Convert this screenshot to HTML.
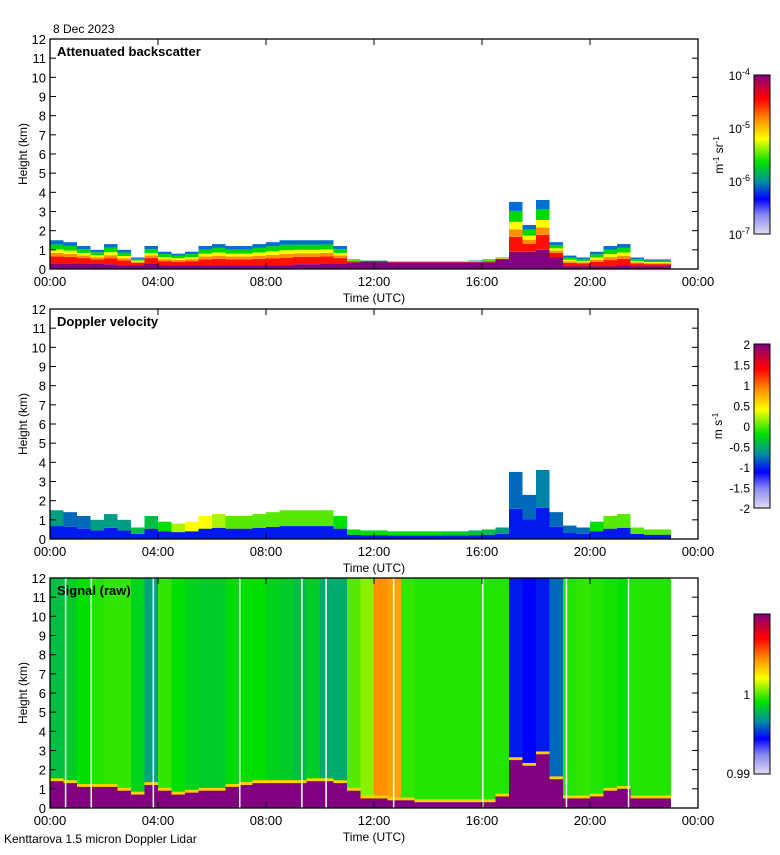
<!DOCTYPE html>
<html><head><meta charset="utf-8"><style>
body{margin:0;background:#fff;}
svg text{font-family:"Liberation Sans",sans-serif;fill:#000;}
</style></head><body>
<svg id="chart" width="780" height="850" xmlns="http://www.w3.org/2000/svg">
<defs>
<linearGradient id="cmap" x1="0" y1="1" x2="0" y2="0">
<stop offset="0" stop-color="#e0dcf0"/><stop offset="0.12" stop-color="#8888f0"/><stop offset="0.22" stop-color="#0000ff"/><stop offset="0.33" stop-color="#0090a0"/><stop offset="0.45" stop-color="#00e000"/><stop offset="0.6" stop-color="#ffff00"/><stop offset="0.72" stop-color="#ff9000"/><stop offset="0.85" stop-color="#ff0000"/><stop offset="0.93" stop-color="#c00040"/><stop offset="1" stop-color="#800080"/>
</linearGradient>
</defs>
<g id="plots"></g>
<g id="axes"></g>
</svg>
<script>
// half-hour bins from 00:00 to 22:30
const hours = [0,0.5,1,1.5,2,2.5,3,3.5,4,4.5,5,5.5,6,6.5,7,7.5,8,8.5,9,9.5,10,10.5,11,11.5,12,12.5,13,13.5,14,14.5,15,15.5,16,16.5,17,17.5,18,18.5,19,19.5,20,20.5,21,21.5,22,22.5];
const cloudTop = [1.5,1.4,1.2,1.0,1.3,1.0,0.6,1.2,0.9,0.8,0.9,1.2,1.3,1.2,1.2,1.3,1.4,1.5,1.5,1.5,1.5,1.2,0.5,0.45,0.45,0.4,0.4,0.4,0.4,0.4,0.4,0.45,0.5,0.6,3.5,2.3,3.6,1.4,0.7,0.6,0.9,1.2,1.3,0.6,0.5,0.5];
const purpleDepth = [0.3,0.3,0.3,0.3,0.25,0.2,0.2,0.3,0.2,0.2,0.2,0.2,0.2,0.2,0.2,0.2,0.2,0.2,0.25,0.25,0.3,0.3,0.35,0.4,0.4,0.35,0.35,0.35,0.35,0.35,0.35,0.35,0.35,0.5,0.9,0.9,1.0,0.6,0.15,0.15,0.15,0.15,0.2,0.15,0.15,0.15];
const velocity = [0.35,0.3,0.3,0.35,0.35,0.35,0.4,0.4,0.45,0.55,0.6,0.6,0.55,0.5,0.5,0.5,0.5,0.5,0.5,0.5,0.5,0.45,0.45,0.45,0.45,0.45,0.45,0.45,0.45,0.42,0.42,0.4,0.4,0.35,0.3,0.3,0.32,0.3,0.3,0.3,0.45,0.5,0.5,0.5,0.5,0.5];
const signalVal = [0.4,0.42,0.45,0.47,0.48,0.48,0.43,0.36,0.48,0.45,0.43,0.42,0.42,0.44,0.45,0.45,0.43,0.42,0.4,0.42,0.37,0.37,0.5,0.53,0.72,0.7,0.48,0.47,0.47,0.47,0.47,0.47,0.47,0.47,0.24,0.22,0.24,0.3,0.47,0.48,0.47,0.46,0.45,0.47,0.47,0.47];
const groundTop = [1.4,1.3,1.1,1.1,1.1,0.9,0.7,1.2,0.9,0.7,0.8,0.9,0.9,1.1,1.2,1.3,1.3,1.3,1.3,1.4,1.4,1.3,0.9,0.5,0.5,0.4,0.4,0.3,0.3,0.3,0.3,0.3,0.3,0.6,2.5,2.2,2.8,1.5,0.5,0.5,0.6,0.9,1.0,0.5,0.5,0.5];
const gapHours = [0.55,1.5,3.8,7.0,9.3,10.2,12.7,16.0,19.1,21.4];
const yTicks = [0,1,2,3,4,5,6,7,8,9,10,11,12];
const xTicks = ["00:00","04:00","08:00","12:00","16:00","20:00","00:00"];

const NS="http://www.w3.org/2000/svg";
const X0=50, W=648, H=230, tops=[39,309,578], BIN=0.5;
const xs=h=>X0+h*W/24;
const ys=(p,km)=>tops[p]+H-km*H/12;
const stops=[[0,[224,220,240]],[0.12,[136,136,240]],[0.22,[0,0,255]],[0.33,[0,144,160]],[0.45,[0,224,0]],[0.6,[255,255,0]],[0.72,[255,144,0]],[0.85,[255,0,0]],[0.93,[192,0,64]],[1,[128,0,128]]];
function cmap(v){v=Math.max(0,Math.min(1,v));for(let i=1;i<stops.length;i++){if(v<=stops[i][0]){const a=stops[i-1],b=stops[i],t=(v-a[0])/(b[0]-a[0]);return 'rgb('+a[1].map((c,k)=>Math.round(c+(b[1][k]-c)*t)).join(',')+')';}}return 'rgb(128,0,128)';}
const plots=document.getElementById('plots'), axes=document.getElementById('axes');
function mk(tag,at,parent){const e=document.createElementNS(NS,tag);for(const k in at)e.setAttribute(k,at[k]);(parent||plots).appendChild(e);return e;}
function rect(p,h0,h1,k0,k1,fill,name){const x=xs(h0),x2=xs(h1),y1=ys(p,k1),y0=ys(p,k0);if(y0-y1<=0)return;const r=mk('rect',{x:x,y:y1,width:x2-x,height:y0-y1,fill:fill});

}

// Panel 1: attenuated backscatter
const bands=[[0,0.3,'#ff1000'],[0.3,0.45,'#ff9000'],[0.45,0.6,'#ffff00'],[0.6,0.82,'#00d800'],[0.82,1.0,'#0070d0']];
hours.forEach((h,i)=>{const t=cloudTop[i],pd=purpleDepth[i];
 rect(0,h,h+BIN,0,Math.min(pd,t),'#800080','backscatter-cell');
 if(t>pd){const r=t-pd;bands.forEach(b=>rect(0,h,h+BIN,pd+r*b[0],pd+r*b[1],b[2],'backscatter-cell'));}
});
// Panel 2: doppler velocity
hours.forEach((h,i)=>{const t=cloudTop[i];
 rect(1,h,h+BIN,0,t*0.45,cmap(0.24),'velocity-cell');
 rect(1,h,h+BIN,t*0.45,t,cmap(velocity[i]),'velocity-cell');
});
// Panel 3: raw signal
hours.forEach((h,i)=>{const g=groundTop[i];
 rect(2,h,h+BIN,g,12,cmap(signalVal[i]),'signal-cell');
 rect(2,h,h+BIN,g,g+0.15,'#ffd000','signal-cell');
 rect(2,h,h+BIN,0,g,'#800080','signal-cell');
});
gapHours.forEach(g=>{const l=mk('rect',{x:xs(g),y:tops[2],width:1.5,height:H,fill:'#fff'});
 
 });

// axes
const titles=['Attenuated backscatter','Doppler velocity','Signal (raw)'];
tops.forEach((T,p)=>{
 const f=mk('rect',{x:X0,y:T,width:W,height:H,fill:'none',stroke:'#000','stroke-width':1.3},axes);
 
 yTicks.forEach(v=>{const y=ys(p,v);
  mk('line',{x1:X0,x2:X0+6,y1:y,y2:y,stroke:'#000'},axes);mk('line',{x1:X0+W-6,x2:X0+W,y1:y,y2:y,stroke:'#000'},axes);
  const t=mk('text',{x:X0-4,y:y+5,'font-size':13,'text-anchor':'end'},axes);t.textContent=v;
  });
 xTicks.forEach((lab,i)=>{const x=xs(i*4);
  mk('line',{x1:x,x2:x,y1:T,y2:T+6,stroke:'#000'},axes);mk('line',{x1:x,x2:x,y1:T+H-6,y2:T+H,stroke:'#000'},axes);
  const t=mk('text',{x:x,y:T+H+17,'font-size':13,'text-anchor':'middle'},axes);t.textContent=lab;
  });
 const xl=mk('text',{x:374,y:T+H+33,'font-size':12,'text-anchor':'middle'},axes);xl.textContent='Time (UTC)';
 
 const yl=mk('text',{transform:`translate(27,${T+H/2}) rotate(-90)`,'font-size':12,'text-anchor':'middle'},axes);yl.textContent='Height (km)';
 
 const tt=mk('text',{x:57,y:T+17,'font-size':13,'font-weight':'bold'},axes);tt.textContent=titles[p];
 
});
const dt=mk('text',{x:53,y:33,'font-size':12},axes);dt.textContent='8 Dec 2023';

const ft=mk('text',{x:4,y:843,'font-size':12},axes);ft.textContent='Kenttarova 1.5 micron Doppler Lidar';


// colorbars
const cbs=[[75,234],[344,508],[614,774]];
cbs.forEach(([a,b],i)=>{const r=mk('rect',{x:754,y:a,width:16,height:b-a,fill:'url(#cmap)',stroke:'#000','stroke-width':1},axes);
 });
function lab(x,y,s,name,anchor){const t=mk('text',{x:x,y:y,'font-size':12,'text-anchor':anchor||'end'},axes);t.innerHTML=s;
 return t;}
['-4','-5','-6','-7'].forEach((e,i)=>lab(750,75+i*53+5,'10<tspan dy="-5" font-size="9">'+e+'</tspan>','colorbar-tick'));
const u1=lab(0,0,'m<tspan dy="-4" font-size="8">-1</tspan><tspan dy="4"> sr</tspan><tspan dy="-4" font-size="8">-1</tspan>','colorbar-unit','middle');u1.setAttribute('transform','translate(723,155) rotate(-90)');
['2','1.5','1','0.5','0','-0.5','-1','-1.5','-2'].forEach((v,i)=>lab(750,344+i*20.5+5,v,'colorbar-tick'));
const u2=lab(0,0,'m s<tspan dy="-4" font-size="8">-1</tspan>','colorbar-unit','middle');u2.setAttribute('transform','translate(722,426) rotate(-90)');
lab(750,699,'1','colorbar-tick');lab(750,778,'0.99','colorbar-tick');
</script>
</body></html>
